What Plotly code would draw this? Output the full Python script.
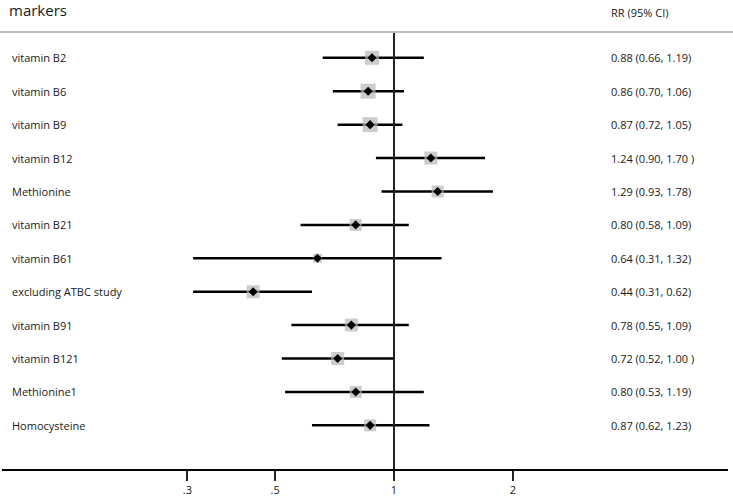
import plotly.graph_objects as go

labels = ["vitamin B2", "vitamin B6", "vitamin B9", "vitamin B12", "Methionine",
          "vitamin B21", "vitamin B61", "excluding ATBC study", "vitamin B91",
          "vitamin B121", "Methionine1", "Homocysteine"]
rr = [0.88, 0.86, 0.87, 1.24, 1.29, 0.80, 0.64, 0.44, 0.78, 0.72, 0.80, 0.87]
lo = [0.66, 0.70, 0.72, 0.90, 0.93, 0.58, 0.31, 0.31, 0.55, 0.52, 0.53, 0.62]
hi = [1.19, 1.06, 1.05, 1.70, 1.78, 1.09, 1.32, 0.62, 1.09, 1.00, 1.19, 1.23]
ci_text = ["0.88 (0.66, 1.19)", "0.86 (0.70, 1.06)", "0.87 (0.72, 1.05)",
           "1.24 (0.90, 1.70 )", "1.29 (0.93, 1.78)", "0.80 (0.58, 1.09)",
           "0.64 (0.31, 1.32)", "0.44 (0.31, 0.62)", "0.78 (0.55, 1.09)",
           "0.72 (0.52, 1.00 )", "0.80 (0.53, 1.19)", "0.87 (0.62, 1.23)"]
weights = [14, 15, 15, 13, 12, 12, 9, 13, 13, 13, 12, 12]
tick_vals = [0.3, 0.5, 1, 2]
tick_text = [".3", ".5", "1", "2"]

W, H = 733, 499
L, R, T, B = 2, 5, 32, 27
pw = W - L - R
ph = H - T - B

rows = list(range(1, len(labels) + 1))

fig = go.Figure()

# CI lines
xs, ys = [], []
for i, r in enumerate(rows):
    xs += [lo[i], hi[i], None]
    ys += [r, r, None]
fig.add_trace(go.Scatter(x=xs, y=ys, mode="lines",
                         line=dict(color="black", width=2.5),
                         hoverinfo="skip", showlegend=False))
# weight squares
fig.add_trace(go.Scatter(x=rr, y=rows, mode="markers",
                         marker=dict(symbol="square", size=weights, color="#b8b8b8",
                                     line=dict(width=0)),
                         showlegend=False))
# point estimates
fig.add_trace(go.Scatter(x=rr, y=rows, mode="markers",
                         marker=dict(symbol="diamond", size=7, color="black"),
                         showlegend=False))

# null line
fig.add_shape(type="line", xref="x", yref="paper", x0=1, x1=1, y0=0, y1=1,
              line=dict(color="#222222", width=2))
# header separator
fig.add_shape(type="line", xref="paper", yref="paper", x0=-L / pw, x1=(W - L) / pw,
              y0=1, y1=1, line=dict(color="#bbbbbb", width=2))

font_family = "Open Sans, Noto Sans, sans-serif"
for i, r in enumerate(rows):
    fig.add_annotation(x=(10 - L) / pw, xref="paper", y=r, yref="y", text=labels[i],
                       showarrow=False, xanchor="left", yanchor="middle",
                       font=dict(size=11, color="#1a1a1a", family=font_family))
    fig.add_annotation(x=(609 - L) / pw, xref="paper", y=r, yref="y", text=ci_text[i],
                       showarrow=False, xanchor="left", yanchor="middle",
                       font=dict(size=11, color="#1a1a1a", family=font_family))

fig.add_annotation(x=(7 - L) / pw, xref="paper", y=1 + (T - 10) / ph, yref="paper",
                   text="markers", showarrow=False, xanchor="left", yanchor="middle",
                   font=dict(size=15, color="#1a1a1a", family=font_family))
fig.add_annotation(x=(609 - L) / pw, xref="paper", y=1 + (T - 12) / ph, yref="paper",
                   text="RR (95% CI)", showarrow=False, xanchor="left", yanchor="middle",
                   font=dict(size=11, color="#1a1a1a", family=font_family))

row_px = 33.64
first_px = 58
y_top = 1 - (first_px - T) / row_px
y_bot = y_top + ph / row_px

fig.update_layout(
    width=W, height=H,
    margin=dict(l=L, r=R, t=T, b=B),
    paper_bgcolor="white", plot_bgcolor="white",
    xaxis=dict(type="log", range=[-0.9924, 0.8456], tickvals=tick_vals, ticktext=tick_text,
               showgrid=False, zeroline=False, showline=True, linecolor="black",
               linewidth=2, ticks="outside", ticklen=10, tickwidth=2, tickcolor="#222222",
               tickfont=dict(size=11, color="#1a1a1a", family=font_family)),
    yaxis=dict(range=[y_bot, y_top], showgrid=False, zeroline=False, showticklabels=False,
               showline=False, ticks=""),
)

fig.write_html("out.html", config={"displayModeBar": False},
               post_script="document.body.style.margin='0';document.body.style.overflow='hidden';")
